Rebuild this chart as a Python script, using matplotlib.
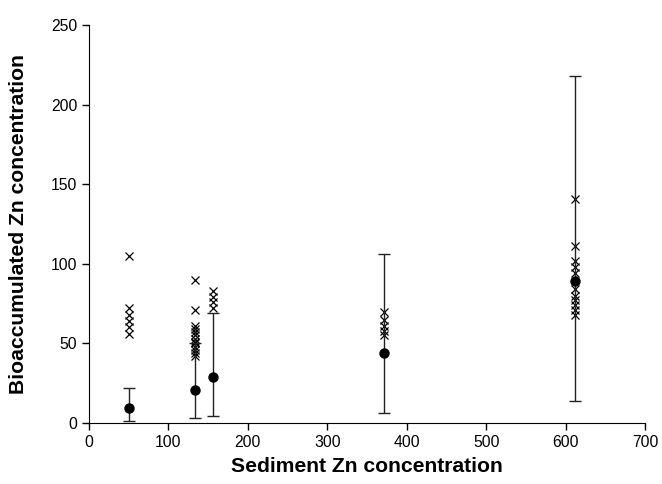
import matplotlib.pyplot as plt

plt.rcParams['font.family'] = ['Liberation Sans', 'DejaVu Sans']

# mean bioaccumulated Zn with lower / upper error limits, per sediment concentration
sed_zn = [50, 134, 156, 371, 612]
mean_zn = [9.6, 20.7, 28.6, 44, 89]
lower_zn = [1.3, 3, 4.2, 6.5, 14]
upper_zn = [22, 50, 69, 106, 218]

# individual samples (crosses)
x50 = [105, 72, 68, 64, 60, 56]
x134 = [90, 71, 61, 59, 57, 55, 53, 51, 50, 48, 46, 44, 42]
x156 = [83, 79, 76, 72]
x371 = [70, 65, 61, 58, 55]
x612 = [141, 111, 102, 98, 94, 84, 80, 77, 74, 71, 68]

samples = {50: x50, 134: x134, 156: x156, 371: x371, 612: x612}

fig = plt.figure(figsize=(6.62, 4.84), dpi=100)
ax = fig.add_axes([89 / 662, 61 / 484, 556 / 662, 398 / 484])

for sx, vals in samples.items():
    ax.plot([sx] * len(vals), vals, linestyle='none', marker='x', color='black',
            markersize=6, markeredgewidth=0.9, zorder=3)

err_lo = [m - lo for m, lo in zip(mean_zn, lower_zn)]
err_hi = [hi - m for m, hi in zip(mean_zn, upper_zn)]
ax.errorbar(sed_zn, mean_zn, yerr=[err_lo, err_hi], fmt='o', color='black',
            ecolor='#222222', elinewidth=1, capsize=4.5, capthick=1,
            markersize=6.5, zorder=4)

ax.set_xlim(0, 700)
ax.set_ylim(0, 250)
ax.set_xticks(range(0, 701, 100))
ax.set_yticks(range(0, 251, 50))
ax.spines['top'].set_visible(False)
ax.spines['right'].set_visible(False)
ax.tick_params(direction='out', length=5, labelsize=11.3, width=1)

ax.set_xlabel("Sediment Zn concentration", fontsize=15.2, fontweight='bold', labelpad=5.5)
ax.set_ylabel("Bioaccumulated Zn concentration", fontsize=15.2, fontweight='bold', labelpad=16)

fig.savefig("out.png", dpi=100)
